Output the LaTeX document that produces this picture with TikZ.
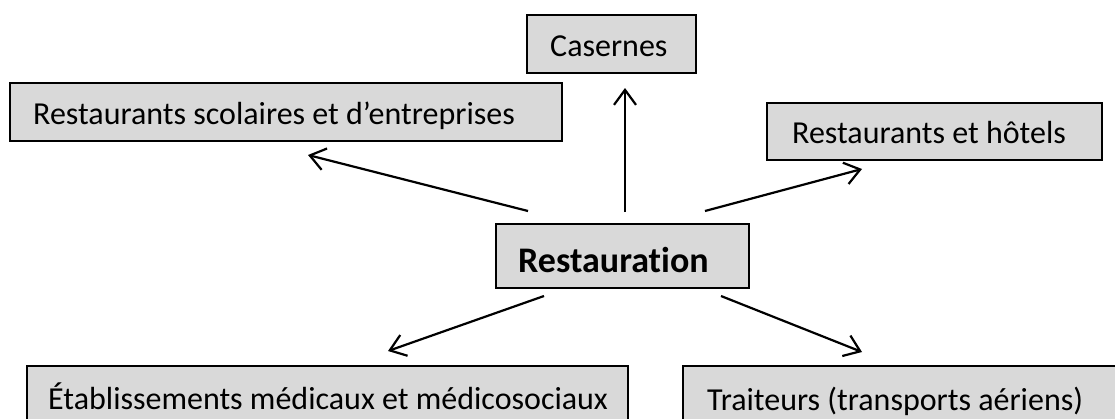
\documentclass[tikz,border=0pt]{standalone}
\usepackage{fontspec}
\setmainfont{Carlito}[Ligatures=NoCommon]
\usetikzlibrary{arrows.meta}
\definecolor{boxgray}{HTML}{D9D9D9}
\tikzset{
  boxrect/.style={draw=black, fill=boxgray, line width=2.4pt},
  lbl/.style={anchor=base west, inner sep=0pt, font=\fontsize{32}{36}\selectfont},
  blbl/.style={anchor=base west, inner sep=0pt, font=\fontsize{36}{40}\selectfont\bfseries},
  arr/.style={line width=2.2pt, -{Straight Barb[length=15pt,width=22pt,line width=2.2pt]}}
}
\begin{document}
\begin{tikzpicture}[x=1pt,y=-1pt]
\clip (0,0) rectangle (1115,418);
\useasboundingbox (0,0) rectangle (1115,418);
% boxes
\draw[boxrect] (527,15) rectangle (696,73);
\node[lbl] (cas) at (550,56) {Casernes};
\draw[boxrect] (10,83) rectangle (562,141);
\node[lbl] (sco) at (33,124) {Restaurants scolaires et d’entreprises};
\draw[boxrect] (767,103) rectangle (1102,160);
\node[lbl] (hot) at (792,143) {Restaurants et hôtels};
\draw[boxrect] (496,224) rectangle (749,288);
\node[blbl] (res) at (518,272) {Restauration};
\draw[boxrect] (27,366) rectangle (628,425);
\node[lbl] (eta) at (48,409) {Établissements médicaux et médicosociaux};
\draw[boxrect] (683,366) rectangle (1125,425);
\node[lbl] (tra) at (707,410) {Traiteurs (transports aériens)};
% arrow endpoints
\coordinate (sN) at (625,212);
\coordinate (eN) at (625,88);
\coordinate (sNW) at (528,211);
\coordinate (eNW) at (308,155);
\coordinate (sNE) at (705,211);
\coordinate (eNE) at (862,169);
\coordinate (sSW) at (544,296);
\coordinate (eSW) at (388,351);
\coordinate (sSE) at (721,296);
\coordinate (eSE) at (862,352);
\draw[arr] (sN) -- (eN);
\draw[arr] (sNW) -- (eNW);
\draw[arr] (sNE) -- (eNE);
\draw[arr] (sSW) -- (eSW);
\draw[arr] (sSE) -- (eSE);
\end{tikzpicture}
\end{document}
